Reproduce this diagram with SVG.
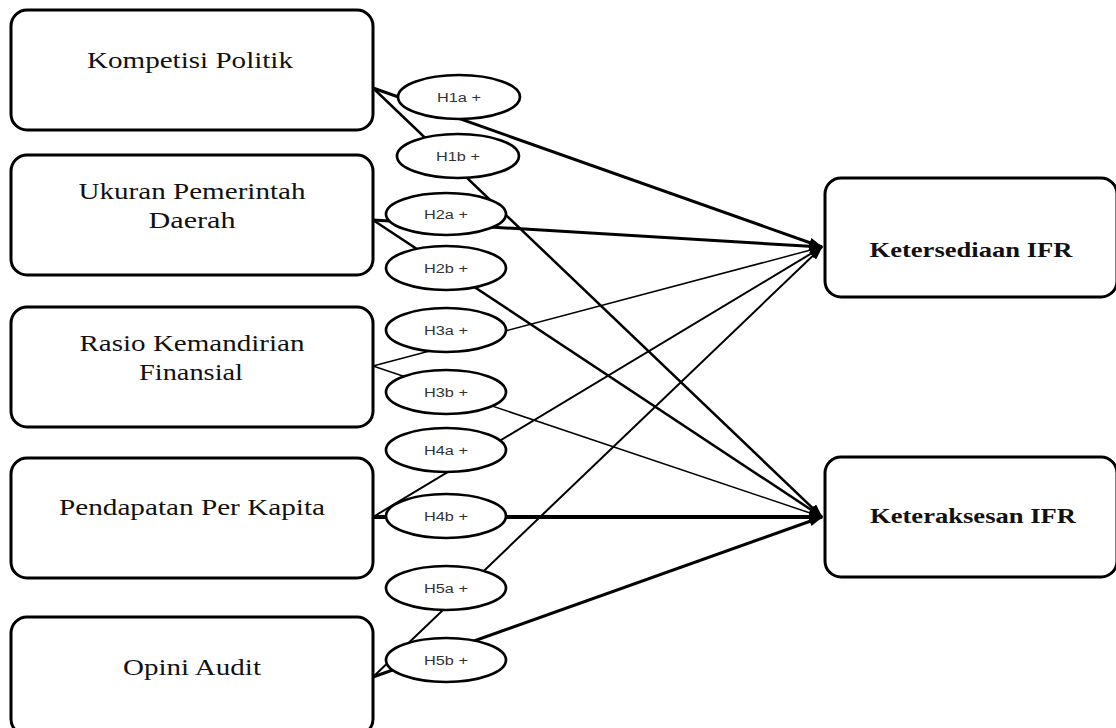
<svg xmlns="http://www.w3.org/2000/svg" width="1116" height="728" viewBox="0 0 1116 728">
<style>
.box{fill:#fff;stroke:#000;stroke-width:3}
.ell{fill:#fff;stroke:#000;stroke-width:2.7}
.t{font-family:"Liberation Serif","Times New Roman",serif;font-size:23px;fill:#111;text-anchor:middle}
.tb{font-family:"Liberation Serif","Times New Roman",serif;font-size:21px;font-weight:bold;fill:#111;text-anchor:middle}
.h{font-family:"Liberation Sans",Arial,sans-serif;font-size:12.5px;fill:#333;text-anchor:middle}
.c{stroke:#000;fill:none}
</style>
<defs>
<marker id="arr" markerUnits="userSpaceOnUse" markerWidth="14" markerHeight="10" refX="13" refY="5" orient="auto">
<path d="M0,0 L14,5 L0,10 z" fill="#000"/>
</marker>
</defs>
<rect width="1116" height="728" fill="#fff"/>
<g id="kompetisi"><rect class="box" x="11" y="10" width="362" height="120" rx="16"/><text class="t" x="190" y="68" textLength="206" lengthAdjust="spacingAndGlyphs">Kompetisi Politik</text></g>
<g id="ukuran"><rect class="box" x="11" y="155" width="362" height="120" rx="16"/><text class="t" x="192" y="199" textLength="227" lengthAdjust="spacingAndGlyphs">Ukuran Pemerintah</text><text class="t" x="192" y="228" textLength="87" lengthAdjust="spacingAndGlyphs">Daerah</text></g>
<g id="rasio"><rect class="box" x="11" y="307" width="362" height="120" rx="16"/><text class="t" x="192" y="351" textLength="225" lengthAdjust="spacingAndGlyphs">Rasio Kemandirian</text><text class="t" x="191" y="380" textLength="104" lengthAdjust="spacingAndGlyphs">Finansial</text></g>
<g id="pendapatan"><rect class="box" x="11" y="458" width="362" height="120" rx="16"/><text class="t" x="192" y="515" textLength="266" lengthAdjust="spacingAndGlyphs">Pendapatan Per Kapita</text></g>
<g id="opini"><rect class="box" x="11" y="617" width="362" height="118" rx="16"/><text class="t" x="192" y="675" textLength="138" lengthAdjust="spacingAndGlyphs">Opini Audit</text></g>
<g id="ketersediaan"><rect class="box" x="825" y="178" width="292" height="119" rx="16"/><text class="tb" x="971" y="257" textLength="203" lengthAdjust="spacingAndGlyphs">Ketersediaan IFR</text></g>
<g id="keteraksesan"><rect class="box" x="825" y="457" width="292" height="120" rx="16"/><text class="tb" x="973" y="523" textLength="206" lengthAdjust="spacingAndGlyphs">Keteraksesan IFR</text></g>
<g id="connectors">
<line class="c" x1="373" y1="88" x2="822" y2="247" stroke-width="3" marker-end="url(#arr)"/>
<line class="c" x1="373" y1="88" x2="822" y2="517" stroke-width="2.5" marker-end="url(#arr)"/>
<line class="c" x1="373" y1="220" x2="822" y2="247" stroke-width="3" marker-end="url(#arr)"/>
<line class="c" x1="373" y1="220" x2="822" y2="517" stroke-width="2.5" marker-end="url(#arr)"/>
<line class="c" x1="373" y1="366" x2="822" y2="247" stroke-width="1.5" marker-end="url(#arr)"/>
<line class="c" x1="373" y1="366" x2="822" y2="517" stroke-width="1.5" marker-end="url(#arr)"/>
<line class="c" x1="373" y1="517" x2="822" y2="247" stroke-width="2" marker-end="url(#arr)"/>
<line class="c" x1="373" y1="517" x2="822" y2="517" stroke-width="4" marker-end="url(#arr)"/>
<line class="c" x1="373" y1="677" x2="822" y2="247" stroke-width="2" marker-end="url(#arr)"/>
<line class="c" x1="373" y1="677" x2="822" y2="517" stroke-width="3" marker-end="url(#arr)"/>
</g>
<g id="h1a"><ellipse class="ell" cx="459" cy="97" rx="61" ry="22"/><text class="h" x="459" y="102" textLength="44" lengthAdjust="spacingAndGlyphs">H1a +</text></g>
<g id="h1b"><ellipse class="ell" cx="458" cy="156" rx="61" ry="22"/><text class="h" x="458" y="161" textLength="44" lengthAdjust="spacingAndGlyphs">H1b +</text></g>
<g id="h2a"><ellipse class="ell" cx="446" cy="214" rx="60" ry="21"/><text class="h" x="446" y="219" textLength="44" lengthAdjust="spacingAndGlyphs">H2a +</text></g>
<g id="h2b"><ellipse class="ell" cx="446" cy="268" rx="60" ry="22"/><text class="h" x="446" y="273" textLength="44" lengthAdjust="spacingAndGlyphs">H2b +</text></g>
<g id="h3a"><ellipse class="ell" cx="446" cy="330" rx="60" ry="22"/><text class="h" x="446" y="335" textLength="44" lengthAdjust="spacingAndGlyphs">H3a +</text></g>
<g id="h3b"><ellipse class="ell" cx="446" cy="392" rx="60" ry="22"/><text class="h" x="446" y="397" textLength="44" lengthAdjust="spacingAndGlyphs">H3b +</text></g>
<g id="h4a"><ellipse class="ell" cx="446" cy="450" rx="60" ry="22"/><text class="h" x="446" y="455" textLength="44" lengthAdjust="spacingAndGlyphs">H4a +</text></g>
<g id="h4b"><ellipse class="ell" cx="446" cy="516" rx="60" ry="22"/><text class="h" x="446" y="521" textLength="44" lengthAdjust="spacingAndGlyphs">H4b +</text></g>
<g id="h5a"><ellipse class="ell" cx="446" cy="588" rx="60" ry="22"/><text class="h" x="446" y="593" textLength="44" lengthAdjust="spacingAndGlyphs">H5a +</text></g>
<g id="h5b"><ellipse class="ell" cx="446" cy="660" rx="60" ry="22"/><text class="h" x="446" y="665" textLength="44" lengthAdjust="spacingAndGlyphs">H5b +</text></g>
</svg>
